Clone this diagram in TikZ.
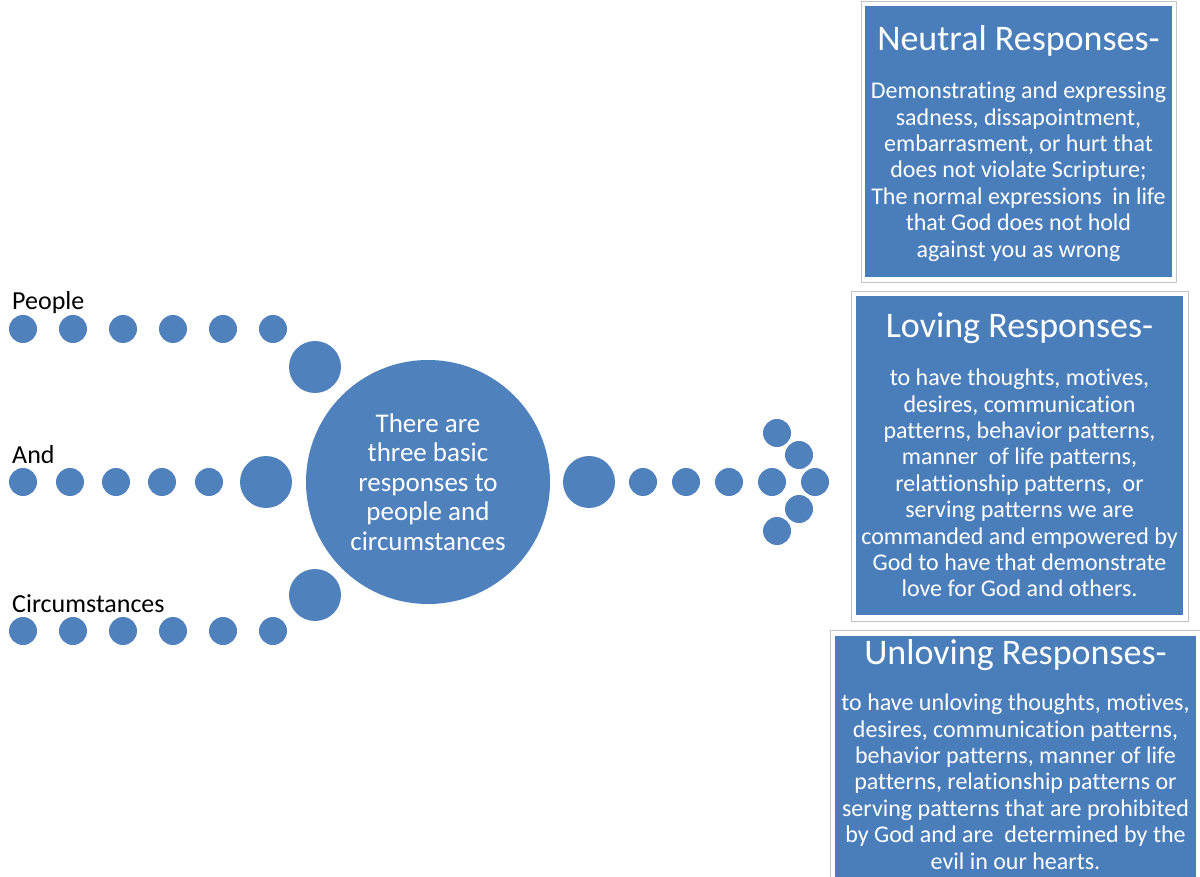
\documentclass[tikz,border=0pt]{standalone}
\usepackage{xcolor}
\usepackage{fontspec}
\setmainfont{Carlito}[Ligatures=NoCommon]
\usetikzlibrary{positioning}
\definecolor{dotblue}{HTML}{4F81BD}
\definecolor{boxblue}{HTML}{4A7EBB}
\definecolor{framegray}{HTML}{C4C4C4}
\newcommand{\bodyfont}{\fontsize{24}{26.4}\selectfont}
\newcommand{\titlefont}{\fontsize{36}{40}\selectfont}
\tikzset{
    smalldot/.style={circle, fill=dotblue, minimum size=28pt, inner sep=0pt},
    bigdot/.style={circle, fill=dotblue, minimum size=52pt, inner sep=0pt},
    hub/.style={circle, fill=dotblue, minimum size=244pt, inner sep=0pt, text=white, align=center, font=\fontsize{27}{29.5}\selectfont},
    lbl/.style={anchor=base west, inner sep=0pt, font=\fontsize{26}{30}\selectfont},
    respbox/.style={rectangle, fill=boxblue, inner sep=0pt},
    respframe/.style={draw=framegray, line width=0.8pt},
    resptitle/.style={anchor=north, inner sep=0pt, text=white, font=\titlefont},
    respbody/.style={anchor=north, inner sep=0pt, text=white, align=center, font=\bodyfont},
}
\begin{document}
\begin{tikzpicture}[x=1pt, y=-1pt]
        \useasboundingbox (0,0) rectangle (1200,877);

        % left rows
        \node[lbl] (lpeople) at (12,310) {People};
        \node[lbl] (land) at (12,463) {And};
        \node[lbl] (lcirc) at (12,612) {Circumstances};
        \foreach \x [count=\i] in {23,73,123,173,223,273}
            \node[smalldot] (p\i) at (\x,329) {};
        \foreach \x [count=\i] in {23,70,116,162,209}
            \node[smalldot] (a\i) at (\x,482) {};
        \foreach \x [count=\i] in {23,73,123,173,223,273}
            \node[smalldot] (c\i) at (\x,631) {};
        \node[bigdot] (pbig) at (315,367) {};
        \node[bigdot] (abig) at (266,482) {};
        \node[bigdot] (cbig) at (315,595) {};

        \node[hub] (hub) at (428,482) {There are\\three basic\\responses to\\people and\\circumstances};

        % arrow to the right
        \node[bigdot] (rbig) at (589,482) {};
        \foreach \x [count=\i] in {643,686,729}
            \node[smalldot] (r\i) at (\x,482) {};
        \node[smalldot] (tipc) at (772,482) {};
        \node[smalldot] (tipr) at (815,482) {};
        \node[smalldot] (tipa) at (777,433) {};
        \node[smalldot] (tipb) at (799,455) {};
        \node[smalldot] (tipd) at (799,509) {};
        \node[smalldot] (tipe) at (777,531) {};

        % response boxes
        \draw[respframe] (861,1) rectangle (1176,282);
        \node[respbox, minimum width=307pt, minimum height=271pt] (neutral) at (1018.5,141.5) {};
        \node[resptitle] (ntitle) at ([yshift=-20pt]neutral.north) {Neutral Responses-};
        \node[respbody] (nbody) at ([yshift=-76pt]neutral.north) {Demonstrating and expressing\\sadness, dissapointment,\\embarrasment, or hurt that\\does not violate Scripture;\\The normal expressions \ in life\\that God does not hold\\against you as wrong};

        \draw[respframe] (851,291) rectangle (1188,621);
        \node[respbox, minimum width=327pt, minimum height=319pt] (loving) at (1019.5,455.5) {};
        \node[resptitle] (ltitle) at ([yshift=-17pt]loving.north) {Loving Responses-};
        \node[respbody] (lbody) at ([yshift=-73pt]loving.north) {to have thoughts, motives,\\desires, communication\\patterns, behavior patterns,\\manner \ of life patterns,\\relattionship patterns, \ or\\serving patterns we are\\commanded and empowered by\\God to have that demonstrate\\love for God and others.};

        \draw[respframe] (830,630) rectangle (1201,880);
        \node[respbox, minimum width=361pt, minimum height=242pt] (unloving) at (1015.5,757) {};
        \node[resptitle] (utitle) at ([yshift=-4pt]unloving.north) {Unloving Responses-};
        \node[respbody] (ubody) at ([yshift=-58pt]unloving.north) {to have unloving thoughts, motives,\\desires, communication patterns,\\behavior patterns, manner of life\\patterns, relationship patterns or\\serving patterns that are prohibited\\by God and are \ determined by the\\evil in our hearts.};
    \end{tikzpicture}
\end{document}
